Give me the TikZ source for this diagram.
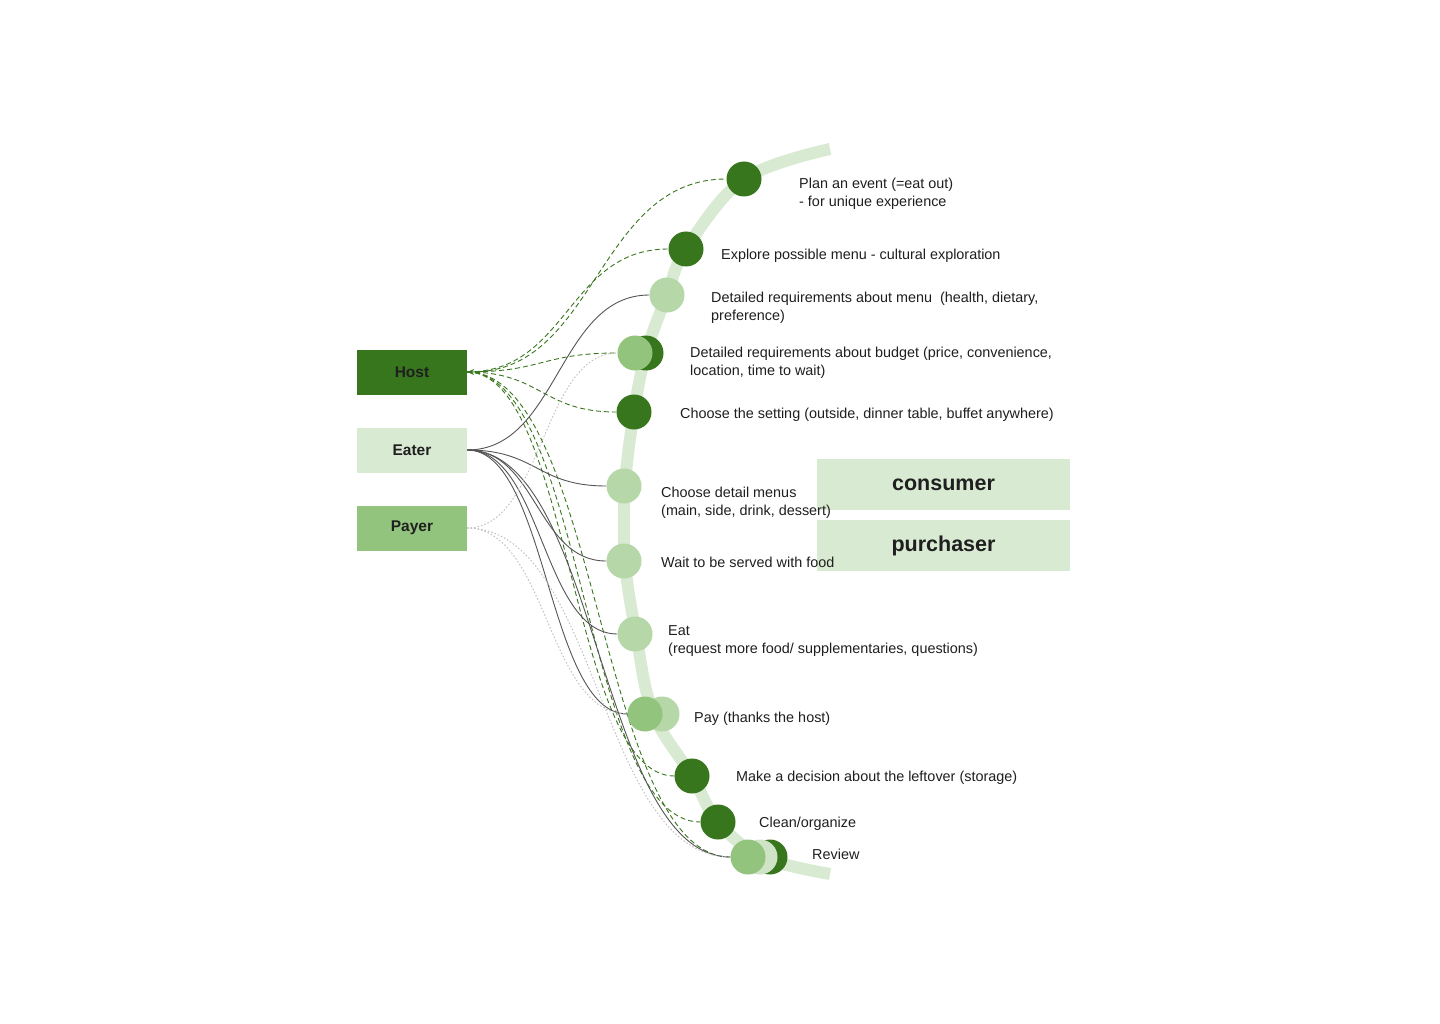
\documentclass[tikz,border=0pt]{standalone}
\usepackage{fontspec}
\setmainfont{Liberation Sans}
\usetikzlibrary{calc,arrows.meta}
\definecolor{gdark}{HTML}{38761D}
\definecolor{gmid}{HTML}{93C47D}
\definecolor{glight}{HTML}{B6D7A8}
\definecolor{gpale}{HTML}{D9EAD3}
\definecolor{gpaletwo}{HTML}{CFE3C6}
\definecolor{linkgray}{HTML}{555555}
\definecolor{dotgray}{HTML}{BDBDBD}
\definecolor{ink}{HTML}{1F1F1F}
\pgfdeclarelayer{paper}
\pgfdeclarelayer{links}
\pgfsetlayers{paper,links,main}
\tikzset{
  role/.style={minimum width=110pt, minimum height=45pt, inner sep=0pt,
    font=\fontsize{15.5}{18}\selectfont\bfseries, text=ink},
  tag/.style={minimum width=253pt, minimum height=51pt, inner sep=0pt, fill=gpale,
    font=\fontsize{21.5}{24}\selectfont\bfseries, text=ink},
  dotc/.style={circle, minimum size=35pt, inner sep=0pt},
  lbl/.style={anchor=west, align=left, inner sep=0pt,
    font=\fontsize{14.4}{18}\selectfont, text=ink},
  hv/.style={to path={let \p1=(\tikztostart), \p2=(\tikztotarget) in
    .. controls ({(\x1+\x2)/2},\y1) and ({(\x1+\x2)/2},\y2) .. (\tikztotarget)}},
  hostlink/.style={hv, draw=gdark, dash pattern=on 5pt off 3pt, line width=0.9pt},
  eatlink/.style={hv, draw=linkgray, line width=0.9pt},
  paylink/.style={hv, draw=dotgray, dash pattern=on 1.5pt off 2pt, line width=0.9pt},
}
\begin{document}
\begin{tikzpicture}[x=1pt, y=-1pt]
\begin{pgfonlayer}{paper}
\fill[white] (0,0) rectangle (1440,1024);
\end{pgfonlayer}
\useasboundingbox (0,0) rectangle (1440,1024);

% journey track
\begin{pgfonlayer}{links}
\draw[gpale, line width=12pt] plot[smooth, tension=0.6] coordinates {
  (830,149) (744,179) (686,249) (667,295) (646,353) (634,412) (625,486)
  (625,561) (636,634) (653,713) (692,776) (718,822) (762,857) (830,874)};
\end{pgfonlayer}

% roles
\node[role, fill=gdark] (host) at (412,372) {Host};
\node[role, fill=gpale] (eater) at (412,450) {Eater};
\node[role, fill=gmid] (payer) at (412,528) {Payer};

% steps
\node[dotc, fill=gdark] (plan) at (744,179) {};
\node[dotc, fill=gdark] (explore) at (686,249) {};
\node[dotc, fill=glight] (menu) at (667,295) {};
\node[dotc, fill=gdark] (budgetH) at (646,353) {};
\node[dotc, fill=gmid] (budget) at (635,353) {};
\node[dotc, fill=gdark] (setting) at (634,412) {};
\node[dotc, fill=glight] (choose) at (624,486) {};
\node[dotc, fill=glight] (wait) at (624,561) {};
\node[dotc, fill=glight] (eat) at (635,634) {};
\node[dotc, fill=glight] (payE) at (662,714) {};
\node[dotc, fill=gmid] (pay) at (645,714) {};
\node[dotc, fill=gdark] (leftover) at (692,776) {};
\node[dotc, fill=gdark] (clean) at (718,822) {};
\node[dotc, fill=gdark] (reviewH) at (770,857) {};
\node[dotc, fill=gpaletwo] (reviewE) at (760,857) {};
\node[dotc, fill=gmid] (review) at (748,857) {};

% links
\begin{pgfonlayer}{links}
\draw[hostlink, {Stealth[length=7pt,width=6pt]}-] (host.east) to (plan.west);
\draw[hostlink] (host.east) to (explore.west);
\draw[hostlink] (host.east) to (budget.west);
\draw[hostlink] (host.east) to (setting.west);
\draw[hostlink] (host.east) to (leftover.west);
\draw[hostlink] (host.east) to (clean.west);
\draw[hostlink] (host.east) to (review.west);

\draw[eatlink] (eater.east) to (menu.west);
\draw[eatlink] (eater.east) to (choose.west);
\draw[eatlink] (eater.east) to (wait.west);
\draw[eatlink] (eater.east) to (eat.west);
\draw[eatlink] (eater.east) to (pay.west);
\draw[eatlink] (eater.east) to (review.west);

\draw[paylink] (payer.east) to (budget.west);
\draw[paylink] (payer.east) to (pay.west);
\draw[paylink] (payer.east) to (review.west);
\end{pgfonlayer}

% perspectives
\node[tag] (consumer) at (943.5,484.5) {consumer};
\node[tag] (purchaser) at (943.5,545.5) {purchaser};

% step labels
\node[lbl] (tplan) at (799,193.5) {Plan an event (=eat out)\\- for unique experience};
\node[lbl] (texplore) at (721,255.5) {Explore possible menu - cultural exploration};
\node[lbl] (tmenu) at (711,307.5) {Detailed requirements about menu\ \ (health, dietary,\\preference)};
\node[lbl] (tbudget) at (690,362.5) {Detailed requirements about budget (price, convenience,\\location, time to wait)};
\node[lbl] (tsetting) at (680,414.5) {Choose the setting (outside, dinner table, buffet anywhere)};
\node[lbl] (tchoose) at (661,502.5) {Choose detail menus\\(main, side, drink, dessert)};
\node[lbl] (twait) at (661,562.5) {Wait to be served with food};
\node[lbl] (teat) at (668,641.5) {Eat\\(request more food/ supplementaries, questions)};
\node[lbl] (tpay) at (694,718.5) {Pay (thanks the host)};
\node[lbl] (tleftover) at (736,777.5) {Make a decision about the leftover (storage)};
\node[lbl] (tclean) at (759,823.5) {Clean/organize};
\node[lbl] (treview) at (812,854.5) {Review};
\end{tikzpicture}
\end{document}
